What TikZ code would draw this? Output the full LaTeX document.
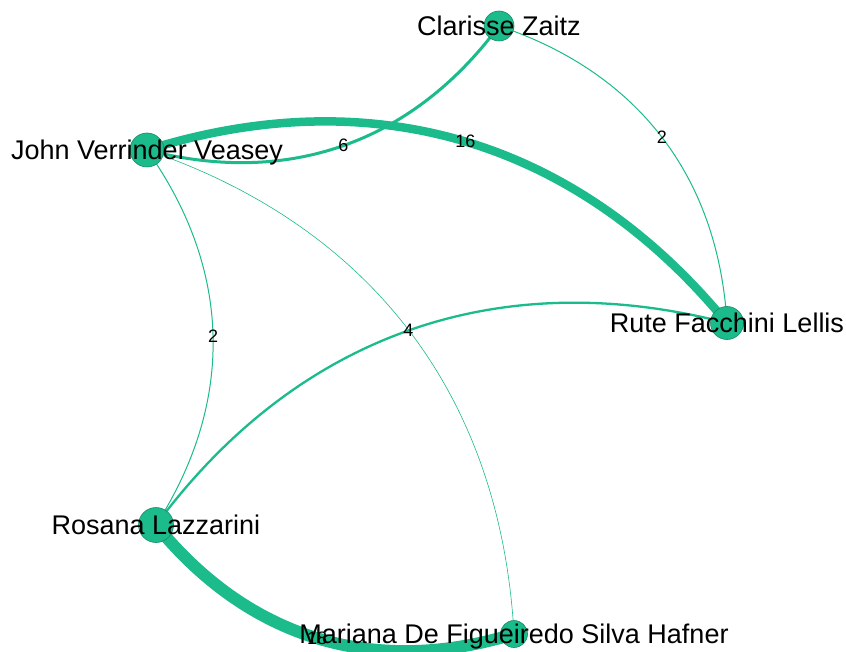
\documentclass[tikz,border=0pt]{standalone}
\usepackage{fontspec}
\setmainfont{Liberation Sans}
\definecolor{edgegreen}{RGB}{28,187,140}
\definecolor{nodeline}{RGB}{22,140,102}
\begin{document}
\begin{tikzpicture}[x=1pt,y=-1pt,
  person/.style={circle,fill=edgegreen,draw=nodeline,line width=0.6pt,inner sep=0pt,minimum size=#1},
  personlabel/.style={font=\fontsize{27}{29}\selectfont,anchor=base,inner sep=0pt,text=black},
  wlabel/.style={font=\fontsize{18}{20}\selectfont,inner sep=0pt,text=black},
  tieline/.style={draw=edgegreen,line width=#1}]
\useasboundingbox[fill=white] (0,0) rectangle (846,652);

% positions of the people
\coordinate (cz) at (499,26);
\coordinate (jv) at (147,150);
\coordinate (rf) at (727,323);
\coordinate (rl) at (156,525);
\coordinate (mh) at (514,634);

% co-authorship ties, curved clockwise, width by weight
\draw[tieline=0.6pt] (jv) to[bend left=34] (mh);
\draw[tieline=1pt] (cz) to[bend left=34] node[wlabel,pos=0.5] {2} (rf);
\draw[tieline=1pt] (jv) to[bend left=34] node[wlabel,pos=0.5] {2} (rl);
\draw[tieline=2.3pt] (rl) to[bend left=34] node[wlabel,pos=0.5] {4} (rf);
\draw[tieline=3pt] (jv) to[bend right=34] node[wlabel,pos=0.5] {6} (cz);
\draw[tieline=8.5pt] (jv) to[bend left=34] node[wlabel,pos=0.5] {16} (rf);
\draw[tieline=12pt] (rl) to[bend right=34] node[wlabel,pos=0.5] {18} (mh);

% people
\node[person=30pt] (czn) at (cz) {};
\node[person=34pt] (jvn) at (jv) {};
\node[person=33pt] (rfn) at (rf) {};
\node[person=35pt] (rln) at (rl) {};
\node[person=27pt] (mhn) at (mh) {};

% names, centred on their circles
\node[personlabel] (czl) at ([yshift=-9.5pt]czn.center) {Clarisse Zaitz};
\node[personlabel] (jvl) at ([yshift=-9.5pt]jvn.center) {John Verrinder Veasey};
\node[personlabel] (rfl) at ([yshift=-9.5pt]rfn.center) {Rute Facchini Lellis};
\node[personlabel] (rll) at ([yshift=-9.5pt]rln.center) {Rosana Lazzarini};
\node[personlabel] (mhl) at ([yshift=-9.5pt]mhn.center) {Mariana De Figueiredo Silva Hafner};
\end{tikzpicture}
\end{document}
